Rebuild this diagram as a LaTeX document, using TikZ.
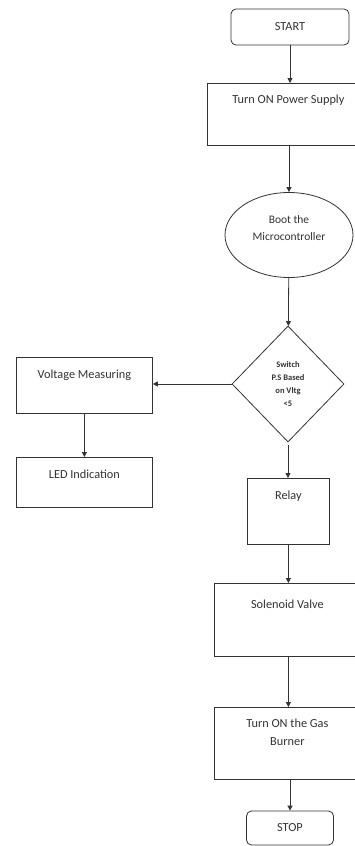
\documentclass[tikz,border=0pt]{standalone}
\usepackage{fontspec}
\setmainfont{Carlito}
\usetikzlibrary{shapes.geometric,arrows.meta}
\begin{document}
\begin{tikzpicture}[x=1pt,y=-1pt,
  every node/.style={font=\fontsize{12.3}{18}\selectfont, text=black!80, draw=black!80, line width=0.8pt},
  boxx/.style={rectangle, inner xsep=2pt, inner ysep=0pt, anchor=north west},
  term/.style={rectangle, rounded corners=5pt, inner sep=0pt},
  ell/.style={ellipse, inner sep=0pt, minimum width=128, minimum height=85, align=center, font=\fontsize{11.5}{17}\selectfont},
  dia/.style={diamond, inner sep=0pt, minimum width=112, minimum height=116, align=center, font=\fontsize{8.5}{13}\selectfont\bfseries},
  arr/.style={draw=black!80, line width=0.8pt, -{Triangle[length=5pt,width=5pt]}}
]
\clip (0,0) rectangle (355,846);
\fill[white] (0,0) rectangle (355,846);

\node[term, minimum width=118, minimum height=36] (start) at (290,27) {START};
\node[boxx, minimum width=162, text height=20, text depth=42] (power) at (207,83) {Turn ON Power Supply};
\node[ell] (boot) at (289,235) {Boot the\\Microcontroller\\[-4pt]};
\node[dia] (sw) at (288,384) {Switch\\P.S Based\\on Vltg\\<5};
\node[boxx, minimum width=136, text height=21, text depth=35] (volt) at (16,357) {Voltage Measuring};
\node[boxx, minimum width=136, text height=21, text depth=29] (led) at (16,457) {LED Indication};
\node[boxx, minimum width=82, text height=21, text depth=45] (relay) at (247,478) {Relay};
\node[boxx, minimum width=146, text height=25, text depth=48] (sol) at (214,583) {Solenoid Valve};
\node[boxx, minimum width=146, align=center, text height=38, text depth=34] (gas) at (214,707) {Turn ON the Gas\\Burner};
\node[term, minimum width=87, minimum height=34] (stop) at (290,828) {STOP};

\draw[arr] (start) -- (power.north -| start);
\draw[arr] (power.south -| boot) -- (boot);
\draw[arr] (boot) -- (sw);
\draw[arr] (sw.west) -- (sw.west -| volt.east);
\draw[arr] (volt) -- (led);
\draw[arr, shorten <=3pt] (sw.south) -- (relay.north -| sw.south);
\draw[arr] (relay.south) -- (sol.north -| relay.south);
\draw[arr] (sol.south -| relay.south) -- (gas.north -| relay.south);
\draw[arr] (gas.south -| stop) -- (stop);
\end{tikzpicture}
\end{document}
